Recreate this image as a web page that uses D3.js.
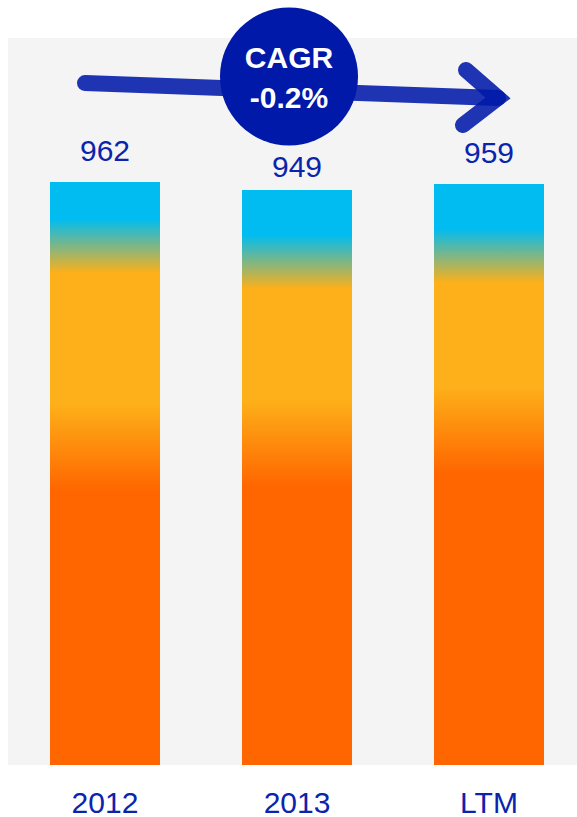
<!DOCTYPE html>
<html>
<head>
<meta charset="utf-8">
<script src="https://cdn.jsdelivr.net/npm/d3@7"></script>
<style>
  body { margin: 0; background: #fff; }
  svg { display: block; font-family: Arial, "Liberation Sans", sans-serif; }
</style>
</head>
<body>
<div id="chart"></div>
<script>
// Categories on the x axis
var CATEGORIES = ['2012', '2013', 'LTM'];
// Stacked segments (bottom to top)
var SERIES_DARK = [524, 531, 553];
var SERIES_ORANGE = [332, 299, 287];
var SERIES_BLUE = [106, 119, 119];
// Totals shown above the bars
var TOTALS = [962, 949, 959];
// CAGR bubble text
var CAGR_LINES = ['CAGR', '-0.2%'];

var COLORS = { dark: '#ff6600', orange: '#fdb019', blue: '#00bcf1' };
var TEXT_BLUE = '#0b23ad';

var width = 577, height = 817;

var svg = d3.select('#chart')
  .append('svg')
    .attr('width', width)
    .attr('height', height);

// grey plot panel
svg.append('rect')
  .attr('x', 8).attr('y', 38)
  .attr('width', width - 8).attr('height', 765 - 38)
  .attr('fill', '#f4f4f4');

var x = d3.scaleBand()
  .domain(CATEGORIES)
  .range([9, 585])
  .paddingInner(0.4245)
  .paddingOuter(0.2122);

var y = d3.scaleLinear()
  .domain([0, 1200])
  .range([765, 37.5]);

// build stack rows
var rows = CATEGORIES.map(function(c, i) {
  return { cat: c, dark: SERIES_DARK[i], orange: SERIES_ORANGE[i], blue: SERIES_BLUE[i], total: TOTALS[i] };
});
var stack = d3.stack().keys(['dark', 'orange', 'blue'])(rows);

// one soft-edged gradient per bar, blending where segments meet
var defs = svg.append('defs');
rows.forEach(function(r, i) {
  var top = y(r.total), bottom = y(0);
  var b1 = y(r.dark + r.orange);   // blue / orange boundary
  var b2 = y(r.dark);              // orange / dark boundary
  function off(v) { return Math.max(0, Math.min(1, (v - top) / (bottom - top))); }
  var g = defs.append('linearGradient')
    .attr('id', 'grad' + i)
    .attr('gradientUnits', 'userSpaceOnUse')
    .attr('x1', 0).attr('x2', 0)
    .attr('y1', top).attr('y2', bottom);
  [[top, COLORS.blue], [b1 - 27, COLORS.blue], [b1 + 27, COLORS.orange],
   [b2 - 43, COLORS.orange], [b2 + 43, COLORS.dark], [bottom, COLORS.dark]]
    .forEach(function(s) {
      g.append('stop').attr('offset', off(s[0])).attr('stop-color', s[1]);
    });
});

// bars
svg.append('g')
  .selectAll('g')
  .data(stack)
  .enter().append('g')
  .selectAll('rect')
  .data(function(d) { return d; })
  .enter().append('rect')
    .attr('x', function(d) { return x(d.data.cat); })
    .attr('y', function(d) { return y(d[1]); })
    .attr('width', x.bandwidth())
    .attr('height', function(d) { return y(d[0]) - y(d[1]); })
    .attr('fill', function(d, i) { return 'url(#grad' + i + ')'; })
    .attr('shape-rendering', 'crispEdges');

// value labels
svg.append('g')
  .selectAll('text')
  .data(rows)
  .enter().append('text')
    .attr('x', function(d) { return x(d.cat) + x.bandwidth() / 2; })
    .attr('y', function(d) { return y(d.total) - (d.cat === '2013' ? 13 : 21); })
    .attr('text-anchor', 'middle')
    .attr('font-size', 30)
    .attr('fill', TEXT_BLUE)
    .text(function(d) { return d.total; });

// x axis
var xAxis = svg.append('g')
  .attr('transform', 'translate(0,765)')
  .call(d3.axisBottom(x).tickSize(0));
xAxis.select('.domain').remove();
xAxis.selectAll('text')
  .attr('y', 48)
  .attr('dy', 0)
  .attr('font-size', 30)
  .attr('font-family', 'Arial, "Liberation Sans", sans-serif')
  .attr('fill', TEXT_BLUE);

// CAGR arrow
var arrow = svg.append('g')
  .attr('fill', 'none')
  .attr('stroke', '#0019a8')
  .attr('stroke-opacity', 0.88)
  .attr('stroke-width', 16)
  .attr('stroke-linecap', 'round')
  .attr('stroke-linejoin', 'miter');
arrow.append('line')
  .attr('x1', 85).attr('y1', 83)
  .attr('x2', 498).attr('y2', 98);
arrow.append('path')
  .attr('d', 'M466,70 L498,98 L463,125');

// CAGR bubble
svg.append('circle')
  .attr('cx', 289).attr('cy', 76.5).attr('r', 69)
  .attr('fill', '#0019a8');
svg.append('g')
  .selectAll('text')
  .data(CAGR_LINES)
  .enter().append('text')
    .attr('x', 289)
    .attr('y', function(d, i) { return 68 + i * 40; })
    .attr('text-anchor', 'middle')
    .attr('font-size', 30)
    .attr('font-weight', 'bold')
    .attr('fill', '#fff')
    .text(function(d) { return d; });
</script>
</body>
</html>
